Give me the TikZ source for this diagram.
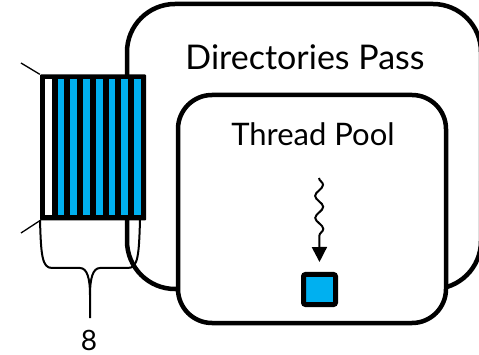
\documentclass[tikz,border=0pt]{standalone}
\usepackage{fontspec}
\setmainfont{Lato}
\usepackage{tikz}
\usetikzlibrary{
  positioning,
  calc,
  arrows.meta,
  decorations.pathmorphing
}
\definecolor{slotblue}{RGB}{0,176,240}
\tikzstyle{passbox}=[draw, line width=4.5pt, fill=white]
\tikzstyle{slot}=[fill=slotblue]
\tikzstyle{thinline}=[line width=1.3pt]
\tikzstyle{bracket}=[line width=2pt, line join=round]
\tikzstyle{worker}=[->, >={Triangle[width=15pt,length=15pt]}, line width=2pt,
  decorate, decoration={snake, amplitude=4pt, segment length=22pt, post length=18pt}]

\begin{document}
\begin{tikzpicture}[x=1pt, y=-1pt]
    \clip (0,0) rectangle (479,355);

    % 外側の箱
    \draw[passbox, rounded corners=48pt] (127,4) rectangle (481,289);
    % 内側の箱
    \draw[passbox, rounded corners=34pt] (178,95) rectangle (446,323);

    % 8個のスロット
    \node[fill=black, inner sep=0pt, minimum width=106pt, minimum height=146pt,
      rounded corners=1pt] (stack) at (93,147.5) {};
    \fill[white] (45,79) rectangle ++(6.7,136);
    \foreach \i in {1,...,7}
      \fill[slot] ({45+12.7*\i},79) rectangle ++(6.7,136);

    % 斜めの短い線
    \coordinate (T) at (21,63);
    \coordinate (B) at (21,233);
    \draw[thinline] (T) -- (stack.north west);
    \draw[thinline] (stack.south west) -- (B);

    % 括弧
    \coordinate (L) at (40,220);
    \coordinate (R) at (140,220);
    \coordinate (tip) at (90,318);
    \draw[bracket] (L) .. controls (41,255) and (42,268) .. (52,268) -- (80,268)
      .. controls (87,268) and (90,278) .. (90,295) -- (tip);
    \draw[bracket] (R) .. controls (139,255) and (138,268) .. (128,268) -- (100,268)
      .. controls (93,268) and (90,278) .. (90,295);
    \node[anchor=base, font=\fontsize{28}{28}\selectfont] (count) at (89,350) {8};

    % ラベル
    \node[anchor=base, font=\fontsize{34}{34}\selectfont] (pass) at (305,70) {Directories Pass};
    \node[anchor=base, font=\fontsize{31}{31}\selectfont] (pool) at (313,146) {Thread Pool};

    % タスクとスレッド
    \node[draw, fill=slotblue, line width=5pt, minimum width=32pt, minimum height=30pt,
      rounded corners=2pt, inner sep=0pt] (task) at (319.5,289.5) {};
    \coordinate (start) at (319,178);
    \draw[worker] (start) -- ([yshift=10pt]task.north);
  \end{tikzpicture}
\end{document}
